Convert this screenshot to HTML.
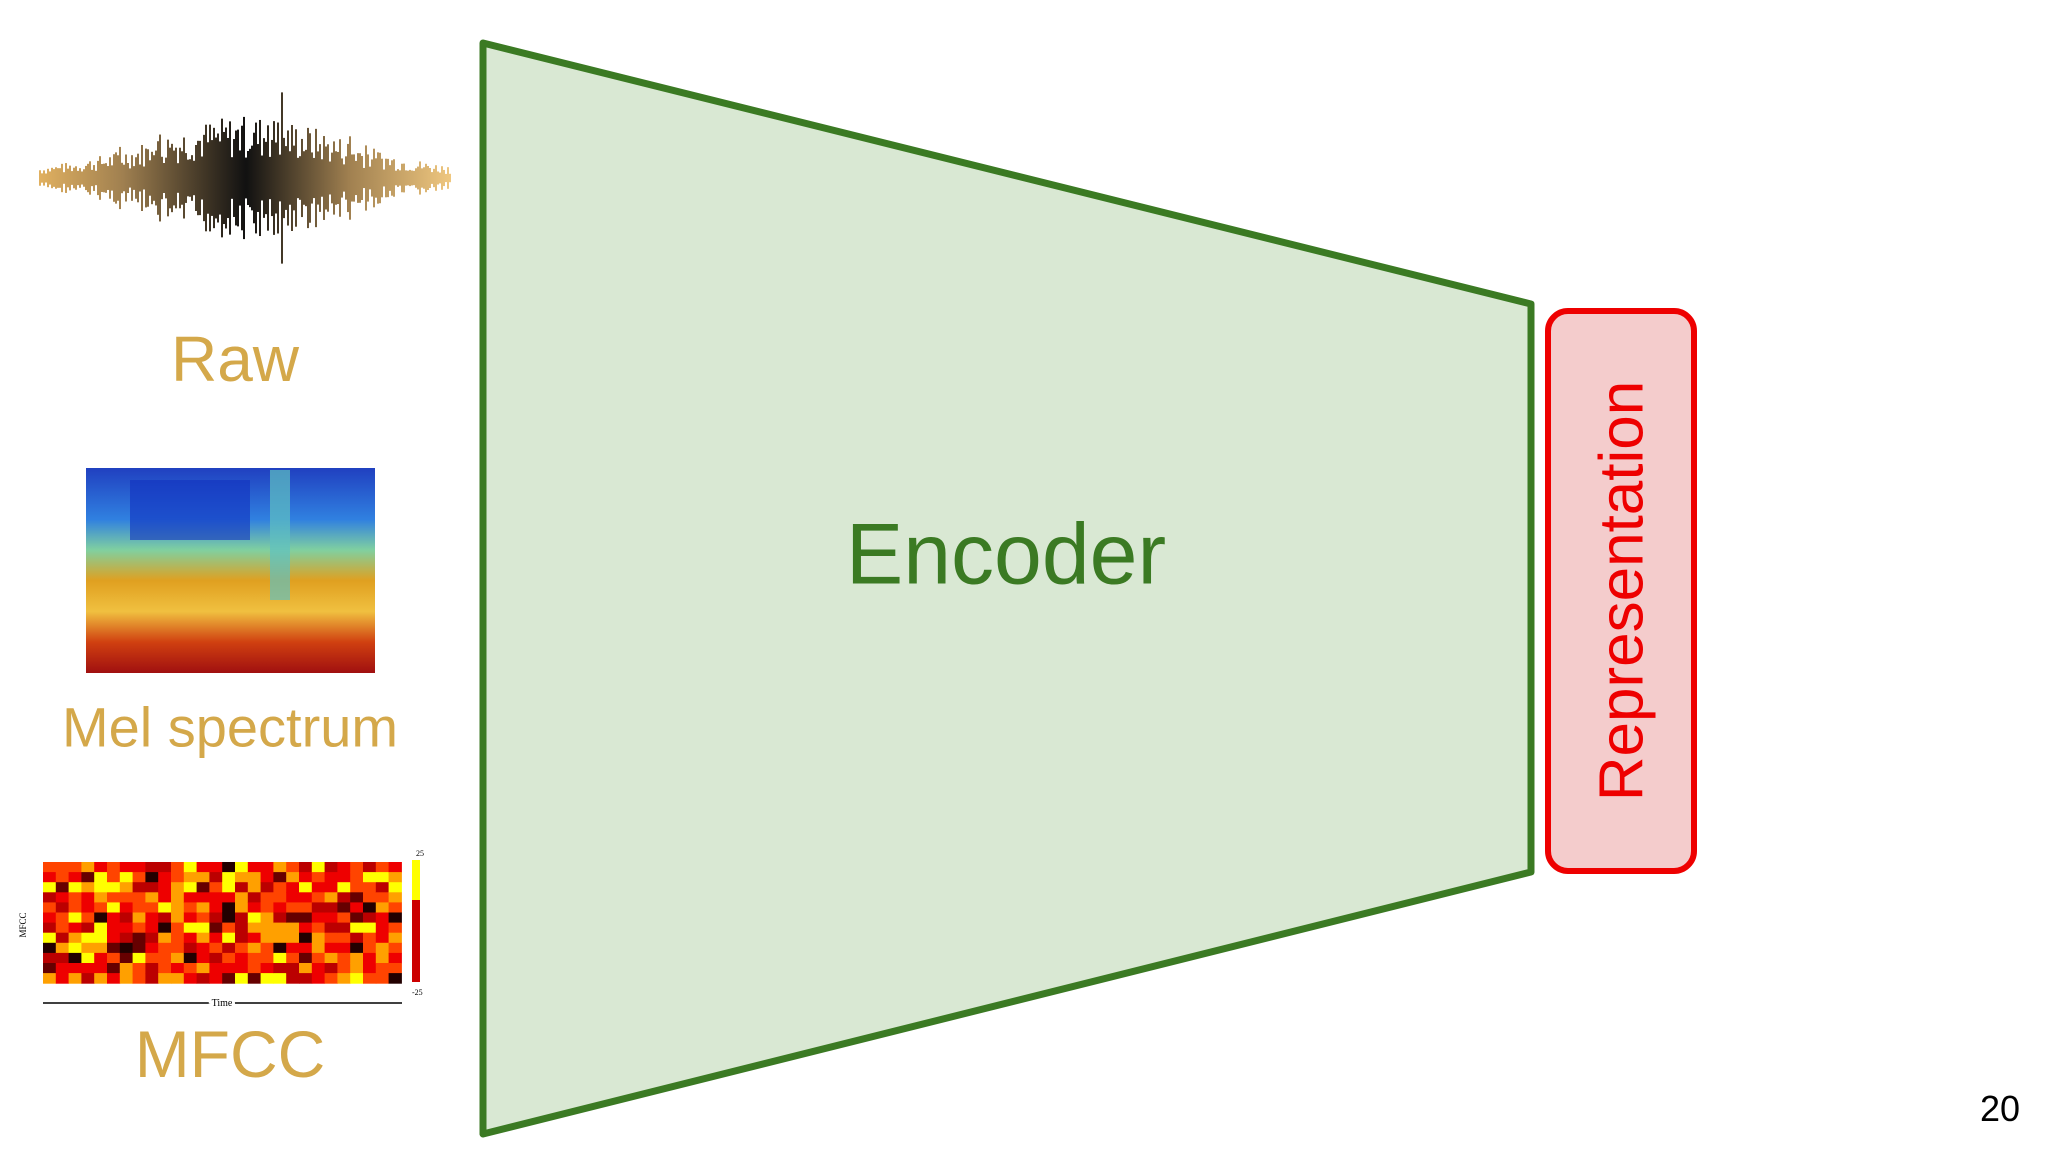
<!DOCTYPE html>
<html><head><meta charset="utf-8">
<style>
html,body{margin:0;padding:0;background:#fff;}
body{width:2048px;height:1152px;position:relative;overflow:hidden;font-family:"Liberation Sans",sans-serif;}
.t{position:absolute;color:#d4a84a;white-space:nowrap;transform:translate(-50%,-50%);}
</style></head><body>
<svg width="2048" height="1152" style="position:absolute;left:0;top:0">
<defs>
<linearGradient id="wg" gradientUnits="userSpaceOnUse" x1="40" x2="452" y1="0" y2="0">
<stop offset="0" stop-color="#e0b060"/><stop offset="0.2" stop-color="#a08050"/>
<stop offset="0.5" stop-color="#111"/><stop offset="0.75" stop-color="#a08050"/><stop offset="1" stop-color="#f0c880"/>
</linearGradient>
<linearGradient id="mel" x1="0" x2="0" y1="0" y2="1">
<stop offset="0" stop-color="#2040c0"/><stop offset="0.25" stop-color="#3080e0"/>
<stop offset="0.4" stop-color="#80d0a0"/><stop offset="0.55" stop-color="#e0a020"/>
<stop offset="0.7" stop-color="#f0c040"/><stop offset="0.85" stop-color="#d04010"/><stop offset="1" stop-color="#a01010"/>
</linearGradient>
</defs>
<polygon points="483,43 1531,304 1531,872 483,1134" fill="#d9e8d3" stroke="#3b7a23" stroke-width="7" stroke-linejoin="round"/>
<rect x="1548" y="311" width="146" height="560" rx="20" fill="#f4cccc" stroke="#ee0000" stroke-width="6"/>
<rect x="86" y="468" width="289" height="205" fill="url(#mel)"/>
<rect x="130" y="480" width="120" height="60" fill="#1030c0" opacity="0.6"/>
<rect x="270" y="470" width="20" height="130" fill="#60c0c0" opacity="0.7"/>
<g id="wave" stroke="url(#wg)" stroke-width="2"></g>
<g id="mfcc"></g>
<rect x="412" y="860" width="8" height="122" fill="#c00"/>
<rect x="412" y="860" width="8" height="40" fill="#ff0"/>
<line x1="43" y1="1003" x2="402" y2="1003" stroke="#000" stroke-width="1.5"/>
<text x="222" y="1006" font-size="10" text-anchor="middle" font-family="Liberation Serif" fill="#000" style="paint-order:stroke" stroke="#fff" stroke-width="6">Time</text>
<text x="26" y="925" font-size="9" font-family="Liberation Serif" transform="rotate(-90 26 925)" text-anchor="middle">MFCC</text>
<text x="416" y="856" font-size="8" font-family="Liberation Serif">25</text>
<text x="412" y="995" font-size="8" font-family="Liberation Serif">-25</text>
</svg>
<div class="t" style="left:235px;top:359px;font-size:64px">Raw</div>
<div class="t" style="left:230px;top:727px;font-size:56px">Mel spectrum</div>
<div class="t" style="left:230px;top:1054px;font-size:66px">MFCC</div>
<div class="t" style="left:1006px;top:555px;font-size:86px;color:#3b7a23">Encoder</div>
<div class="t" style="left:1622px;top:591px;font-size:62px;color:#ee0000;transform:translate(-50%,-50%) rotate(-90deg)">Representation</div>
<div style="position:absolute;left:1980px;top:1088px;font-size:36px;color:#000">20</div>
<script>
var s=7,r=function(){s=(s*9301+49297)%233280;return s/233280;};
var w=document.getElementById('wave'),h='';
for(var x=40;x<452;x+=2){var env=Math.exp(-Math.pow((x-250)/130,2))*55+8;var a=env*(0.3+r()*0.7);if(r()<0.06)a*=1.6;
h+='<line x1="'+x+'" x2="'+x+'" y1="'+(178-a)+'" y2="'+(178+a)+'"/>';}
w.innerHTML=h;
var m=document.getElementById('mfcc'),c=['#ff0','#ffa000','#f40','#e00','#b00','#600','#200','#ff6'];h='';
for(var i=0;i<28;i++)for(var j=0;j<12;j++){var v=r();var k=v<0.1?0:v<0.25?1:v<0.5?2:v<0.75?3:v<0.88?4:v<0.95?5:6;
h+='<rect x="'+(43+i*12.8)+'" y="'+(862+j*10.1)+'" width="13.3" height="10.6" fill="'+c[k]+'"/>';}
m.innerHTML=h;
</script>
</body></html>
